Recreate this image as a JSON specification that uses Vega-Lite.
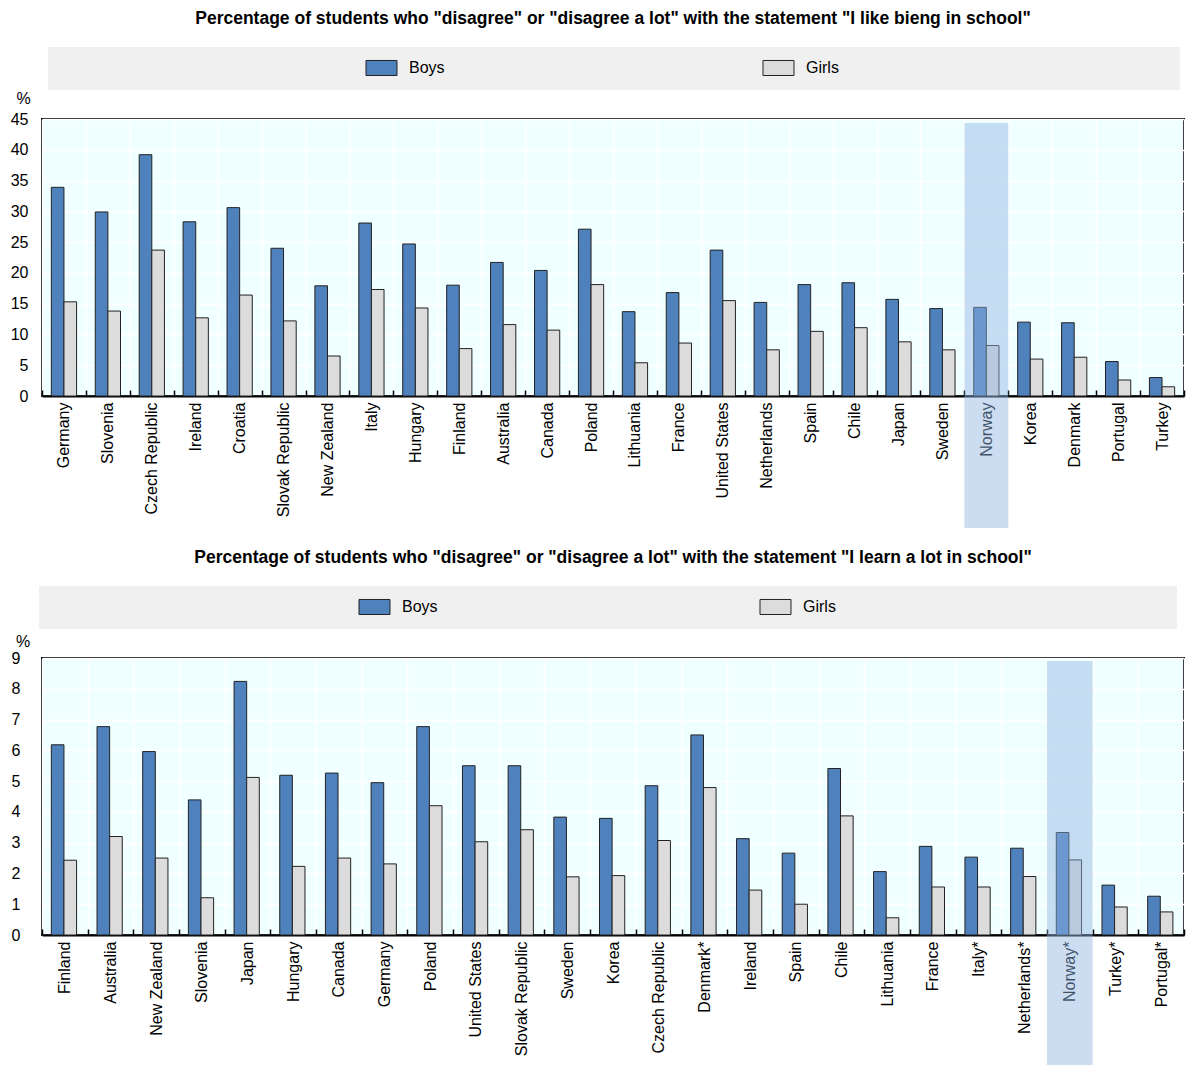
{
  "$schema": "https://vega.github.io/schema/vega-lite/v6.json",
  "padding": {"left": 9, "top": 8, "right": 2, "bottom": 0},
  "background": "white",
  "spacing": 18,
  "align": "none",
  "resolve": {"scale": {"color": "independent"}, "legend": {"color": "independent"}},
  "config": {
    "font": "Liberation Sans",
    "view": {"fill": "#f0ffff", "stroke": "black", "strokeWidth": 2},
    "axis": {
      "labelFont": "Liberation Sans",
      "labelFontSize": 16,
      "labelColor": "black",
      "gridColor": "white",
      "gridWidth": 1.5,
      "gridOpacity": 1
    },
    "axisX": {
      "domain": true, "domainColor": "black", "domainWidth": 2,
      "ticks": true, "tickColor": "black", "tickWidth": 1.5, "tickSize": -6, "tickBand": "extent",
      "labelAngle": -90, "labelPadding": 12, "labelLimit": 300, "grid": true
    },
    "axisY": {
      "domain": false, "ticks": false, "grid": true, "labelOverlap": false
    },
    "title": {
      "font": "Liberation Sans",
      "fontSize": 17.5, "fontWeight": "bold", "color": "black",
      "anchor": "middle", "frame": "group", "offset": 20
    },
    "legend": {
      "orient": "none",
      "direction": "horizontal",
      "fillColor": "#f0f0f0",
      "padding": 12,
      "symbolType": "M-2,-0.97H2V0.97H-2Z",
      "symbolSize": 240,
      "symbolStrokeColor": "#222222",
      "symbolStrokeWidth": 1,
      "symbolOpacity": 1,
      "labelFont": "Liberation Sans",
      "labelFontSize": 16,
      "labelColor": "black",
      "labelOffset": 19,
      "labelLimit": 2000,
      "titleOrient": "left",
      "titleFontSize": 1
    }
  },
  "vconcat": [
    {
      "width": 1142,
      "height": 277,
      "title": {"text": "Percentage of students who \"disagree\" or \"disagree a lot\" with the statement \"I like bieng in school\""},
      "data": {"values": [
        {"country": "Germany", "sex": "Boys", "value": 33.9}, {"country": "Germany", "sex": "Girls", "value": 15.3},
        {"country": "Slovenia", "sex": "Boys", "value": 29.9}, {"country": "Slovenia", "sex": "Girls", "value": 13.8},
        {"country": "Czech Republic", "sex": "Boys", "value": 39.2}, {"country": "Czech Republic", "sex": "Girls", "value": 23.7},
        {"country": "Ireland", "sex": "Boys", "value": 28.3}, {"country": "Ireland", "sex": "Girls", "value": 12.7},
        {"country": "Croatia", "sex": "Boys", "value": 30.6}, {"country": "Croatia", "sex": "Girls", "value": 16.4},
        {"country": "Slovak Republic", "sex": "Boys", "value": 24.0}, {"country": "Slovak Republic", "sex": "Girls", "value": 12.2},
        {"country": "New Zealand", "sex": "Boys", "value": 17.9}, {"country": "New Zealand", "sex": "Girls", "value": 6.5},
        {"country": "Italy", "sex": "Boys", "value": 28.1}, {"country": "Italy", "sex": "Girls", "value": 17.3},
        {"country": "Hungary", "sex": "Boys", "value": 24.7}, {"country": "Hungary", "sex": "Girls", "value": 14.3},
        {"country": "Finland", "sex": "Boys", "value": 18.0}, {"country": "Finland", "sex": "Girls", "value": 7.7},
        {"country": "Australia", "sex": "Boys", "value": 21.7}, {"country": "Australia", "sex": "Girls", "value": 11.6},
        {"country": "Canada", "sex": "Boys", "value": 20.4}, {"country": "Canada", "sex": "Girls", "value": 10.7},
        {"country": "Poland", "sex": "Boys", "value": 27.1}, {"country": "Poland", "sex": "Girls", "value": 18.1},
        {"country": "Lithuania", "sex": "Boys", "value": 13.7}, {"country": "Lithuania", "sex": "Girls", "value": 5.4},
        {"country": "France", "sex": "Boys", "value": 16.8}, {"country": "France", "sex": "Girls", "value": 8.6},
        {"country": "United States", "sex": "Boys", "value": 23.7}, {"country": "United States", "sex": "Girls", "value": 15.5},
        {"country": "Netherlands", "sex": "Boys", "value": 15.2}, {"country": "Netherlands", "sex": "Girls", "value": 7.5},
        {"country": "Spain", "sex": "Boys", "value": 18.1}, {"country": "Spain", "sex": "Girls", "value": 10.5},
        {"country": "Chile", "sex": "Boys", "value": 18.4}, {"country": "Chile", "sex": "Girls", "value": 11.1},
        {"country": "Japan", "sex": "Boys", "value": 15.7}, {"country": "Japan", "sex": "Girls", "value": 8.8},
        {"country": "Sweden", "sex": "Boys", "value": 14.2}, {"country": "Sweden", "sex": "Girls", "value": 7.5},
        {"country": "Norway", "sex": "Boys", "value": 14.4}, {"country": "Norway", "sex": "Girls", "value": 8.2},
        {"country": "Korea", "sex": "Boys", "value": 12.0}, {"country": "Korea", "sex": "Girls", "value": 6.0},
        {"country": "Denmark", "sex": "Boys", "value": 11.9}, {"country": "Denmark", "sex": "Girls", "value": 6.3},
        {"country": "Portugal", "sex": "Boys", "value": 5.6}, {"country": "Portugal", "sex": "Girls", "value": 2.6},
        {"country": "Turkey", "sex": "Boys", "value": 3.0}, {"country": "Turkey", "sex": "Girls", "value": 1.5}
      ]},
      "layer": [
        {
          "mark": {"type": "bar", "stroke": "#222222", "strokeWidth": 1},
          "encoding": {
            "x": {"field": "country", "type": "nominal", "sort": null, "title": null,
                  "scale": {"paddingInner": 0, "paddingOuter": 0}},
            "xOffset": {"field": "sex", "type": "nominal", "sort": ["Boys", "Girls"],
                        "scale": {"paddingInner": 0, "paddingOuter": 0.74}},
            "y": {"field": "value", "type": "quantitative",
                  "scale": {"domain": [0, 45], "nice": false},
                  "axis": {"values": [0, 5, 10, 15, 20, 25, 30, 35, 40, 45], "tickCount": 20, "format": "d", "labelOverlap": false, "labelPadding": 14,
                           "title": "%", "titleAngle": 0,
                           "titleFont": "Liberation Sans", "titleFontSize": 16, "titleFontWeight": "normal", "titleAlign": "center",
                           "titleBaseline": "alphabetic", "titleX": -19, "titleY": -16}},
            "color": {"field": "sex", "type": "nominal",
                      "scale": {"domain": ["Boys", "Girls"], "range": ["#4f81bd", "#dcdcdc"]},
                      "legend": {"title": "\u200b", "titlePadding": 313, "columnPadding": 316,
                                 "legendX": 6, "legendY": -72,
                                 "labelExpr": "datum.label == 'Girls' ? pad('Girls', 79, '\u00a0', 'right') + '\u200b' : datum.label"}}
          }
        },
        {
          "data": {"values": [{"country": "Norway"}]},
          "mark": {"type": "rect", "color": "#8db4e2", "opacity": 0.45},
          "encoding": {
            "x": {"field": "country", "type": "nominal", "sort": null},
            "y": {"datum": 44.35},
            "y2": {"datum": -21.44}
          }
        }
      ]
    },
    {
      "width": 1142,
      "height": 277,
      "title": {"text": "Percentage of students who \"disagree\" or \"disagree a lot\" with the statement \"I learn a lot in school\""},
      "data": {"values": [
        {"country": "Finland", "sex": "Boys", "value": 6.18}, {"country": "Finland", "sex": "Girls", "value": 2.43},
        {"country": "Australia", "sex": "Boys", "value": 6.77}, {"country": "Australia", "sex": "Girls", "value": 3.2},
        {"country": "New Zealand", "sex": "Boys", "value": 5.96}, {"country": "New Zealand", "sex": "Girls", "value": 2.5},
        {"country": "Slovenia", "sex": "Boys", "value": 4.39}, {"country": "Slovenia", "sex": "Girls", "value": 1.21},
        {"country": "Japan", "sex": "Boys", "value": 8.24}, {"country": "Japan", "sex": "Girls", "value": 5.12},
        {"country": "Hungary", "sex": "Boys", "value": 5.19}, {"country": "Hungary", "sex": "Girls", "value": 2.23},
        {"country": "Canada", "sex": "Boys", "value": 5.26}, {"country": "Canada", "sex": "Girls", "value": 2.5},
        {"country": "Germany", "sex": "Boys", "value": 4.95}, {"country": "Germany", "sex": "Girls", "value": 2.31},
        {"country": "Poland", "sex": "Boys", "value": 6.77}, {"country": "Poland", "sex": "Girls", "value": 4.2},
        {"country": "United States", "sex": "Boys", "value": 5.5}, {"country": "United States", "sex": "Girls", "value": 3.03},
        {"country": "Slovak Republic", "sex": "Boys", "value": 5.5}, {"country": "Slovak Republic", "sex": "Girls", "value": 3.42},
        {"country": "Sweden", "sex": "Boys", "value": 3.83}, {"country": "Sweden", "sex": "Girls", "value": 1.89},
        {"country": "Korea", "sex": "Boys", "value": 3.79}, {"country": "Korea", "sex": "Girls", "value": 1.93},
        {"country": "Czech Republic", "sex": "Boys", "value": 4.85}, {"country": "Czech Republic", "sex": "Girls", "value": 3.07},
        {"country": "Denmark*", "sex": "Boys", "value": 6.5}, {"country": "Denmark*", "sex": "Girls", "value": 4.79},
        {"country": "Ireland", "sex": "Boys", "value": 3.13}, {"country": "Ireland", "sex": "Girls", "value": 1.46},
        {"country": "Spain", "sex": "Boys", "value": 2.66}, {"country": "Spain", "sex": "Girls", "value": 1.0},
        {"country": "Chile", "sex": "Boys", "value": 5.41}, {"country": "Chile", "sex": "Girls", "value": 3.87},
        {"country": "Lithuania", "sex": "Boys", "value": 2.06}, {"country": "Lithuania", "sex": "Girls", "value": 0.56},
        {"country": "France", "sex": "Boys", "value": 2.88}, {"country": "France", "sex": "Girls", "value": 1.56},
        {"country": "Italy*", "sex": "Boys", "value": 2.53}, {"country": "Italy*", "sex": "Girls", "value": 1.56},
        {"country": "Netherlands*", "sex": "Boys", "value": 2.82}, {"country": "Netherlands*", "sex": "Girls", "value": 1.9},
        {"country": "Norway*", "sex": "Boys", "value": 3.33}, {"country": "Norway*", "sex": "Girls", "value": 2.44},
        {"country": "Turkey*", "sex": "Boys", "value": 1.62}, {"country": "Turkey*", "sex": "Girls", "value": 0.91},
        {"country": "Portugal*", "sex": "Boys", "value": 1.26}, {"country": "Portugal*", "sex": "Girls", "value": 0.75}
      ]},
      "layer": [
        {
          "mark": {"type": "bar", "stroke": "#222222", "strokeWidth": 1},
          "encoding": {
            "x": {"field": "country", "type": "nominal", "sort": null, "title": null,
                  "scale": {"paddingInner": 0, "paddingOuter": 0}},
            "xOffset": {"field": "sex", "type": "nominal", "sort": ["Boys", "Girls"],
                        "scale": {"paddingInner": 0, "paddingOuter": 0.73}},
            "y": {"field": "value", "type": "quantitative",
                  "scale": {"domain": [0, 9], "nice": false},
                  "axis": {"values": [0, 1, 2, 3, 4, 5, 6, 7, 8, 9], "tickCount": 20, "format": "d", "labelOverlap": false, "labelPadding": 22,
                           "title": "%", "titleAngle": 0,
                           "titleFont": "Liberation Sans", "titleFontSize": 16, "titleFontWeight": "normal", "titleAlign": "center",
                           "titleBaseline": "alphabetic", "titleX": -19.5, "titleY": -12}},
            "color": {"field": "sex", "type": "nominal",
                      "scale": {"domain": ["Boys", "Girls"], "range": ["#4f81bd", "#dcdcdc"]},
                      "legend": {"title": "\u200b", "titlePadding": 315, "columnPadding": 320,
                                 "legendX": -3, "legendY": -72,
                                 "labelExpr": "datum.label == 'Girls' ? pad('Girls', 79, '\u00a0', 'right') + '\u200b' : datum.label"}}
          }
        },
        {
          "data": {"values": [{"country": "Norway*"}]},
          "mark": {"type": "rect", "color": "#8db4e2", "opacity": 0.45},
          "encoding": {
            "x": {"field": "country", "type": "nominal", "sort": null},
            "y": {"datum": 8.9},
            "y2": {"datum": -4.22}
          }
        }
      ]
    }
  ]
}
